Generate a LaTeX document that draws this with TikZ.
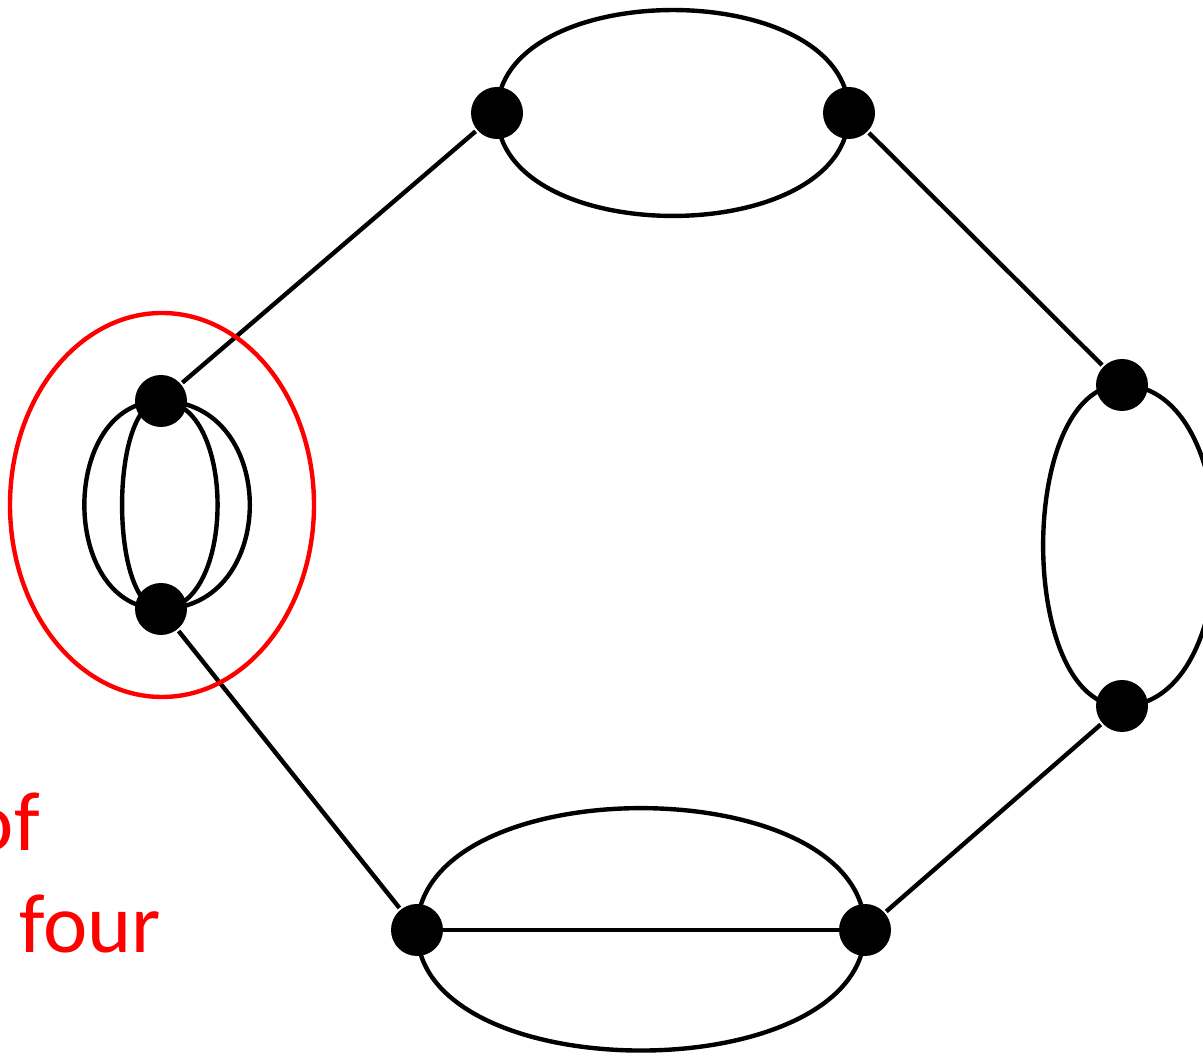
\documentclass[tikz,border=0pt]{standalone}
\usepackage{fontspec}
\setmainfont{Carlito}
\begin{document}
\begin{tikzpicture}[x=1pt,y=1pt,line width=4.4pt,
    dot/.style={circle,fill=black,inner sep=0pt,minimum size=52pt},
    redtext/.style={text=red,inner sep=0pt,font=\fontsize{84}{100}\selectfont}]
  \useasboundingbox (0,0) rectangle (1203,1056);
  \clip (0,0) rectangle (1203,1056);
  \node[dot] (t1) at (497,943) {};
  \node[dot] (t2) at (849,943) {};
  \node[dot] (r1) at (1122,671) {};
  \node[dot] (r2) at (1122,350) {};
  \node[dot] (b2) at (865,126) {};
  \node[dot] (b1) at (417,126) {};
  \node[dot] (l2) at (161,447) {};
  \node[dot] (l1) at (161,655) {};
  \draw (t1) -- (l1);
  \draw (t2) -- (r1);
  \draw (r2) -- (b2);
  \draw (b1) -- (l2);
  \draw (t1.center) to[out=90,in=90] (t2.center);
  \draw (t1.center) to[out=-90,in=-90] (t2.center);
  \draw (r1.center) to[out=180,in=180,looseness=0.84] (r2.center);
  \draw (r1.center) to[out=0,in=0,looseness=1] (r2.center);
  \draw (b1.center) to[out=90,in=90,looseness=0.93] (b2.center);
  \draw (b1.center) to[out=-90,in=-90,looseness=0.92] (b2.center);
  \draw (b1.center) -- (b2.center);
  \draw (l1.center) to[out=180,in=180,looseness=1.26] (l2.center);
  \draw (l1.center) to[out=180,in=180,looseness=0.64] (l2.center);
  \draw (l1.center) to[out=0,in=0,looseness=0.93] (l2.center);
  \draw (l1.center) to[out=0,in=0,looseness=1.46] (l2.center);
  \draw[red] (162,551) ellipse [x radius=152, y radius=192];
  \node[redtext,anchor=base east] (w1) at (42,205) {of};
  \node[redtext,anchor=base west] (w2) at (17,103) {four};
\end{tikzpicture}
\end{document}
